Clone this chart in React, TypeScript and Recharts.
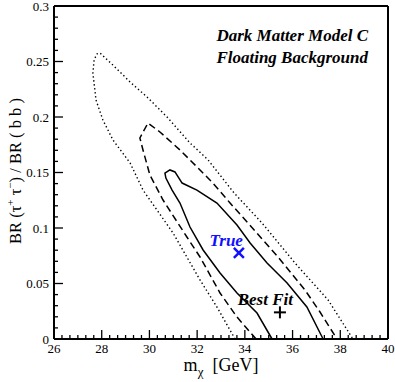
import React from 'react';
import { ComposedChart, Line, Scatter, XAxis, YAxis } from 'recharts';

const SERIF = "'Liberation Serif', 'DejaVu Serif', 'Times New Roman', serif";
const serif = { fontFamily: SERIF };

// contour boundaries: m_chi [GeV] and BR ratio
const outerX = [33.59, 32.83, 32.12, 30.99, 29.73, 29.19, 28.47, 28.05, 27.76, 27.63, 27.68, 27.8, 27.93, 28.47, 29.19, 29.9, 30.74, 31.7, 32.46, 33.55, 34.72, 36.1, 37.49, 38.53];
const outerY = [0, 0.0288, 0.0532, 0.0955, 0.1342, 0.1586, 0.1793, 0.1973, 0.2153, 0.2396, 0.2514, 0.2568, 0.2577, 0.2468, 0.2315, 0.218, 0.2, 0.1766, 0.1613, 0.1315, 0.1045, 0.0685, 0.0351, 0];

const midX = [34.47, 33.67, 32.96, 32.12, 31.57, 30.57, 30.02, 29.73, 29.6, 29.94, 30.44, 31.28, 32.12, 32.66, 33.38, 34.13, 35.39, 36.52, 37.15, 37.86];
const midY = [0, 0.0198, 0.0414, 0.0739, 0.0919, 0.1252, 0.1477, 0.1703, 0.1811, 0.1946, 0.1865, 0.1703, 0.1523, 0.1405, 0.1225, 0.1045, 0.0739, 0.0441, 0.0243, 0];

const innerX = [35.14, 34.51, 33.67, 32.96, 32.25, 31.7, 31.28, 30.95, 30.69, 30.65, 30.86, 31.07, 31.37, 31.99, 32.83, 33.67, 34.22, 34.93, 35.77, 36.6, 37.28];
const innerY = [0, 0.0234, 0.0414, 0.0595, 0.0802, 0.1009, 0.1225, 0.1342, 0.145, 0.1495, 0.1523, 0.1505, 0.1405, 0.1342, 0.1225, 0.1027, 0.0865, 0.0685, 0.0505, 0.0288, 0];

const markerNames = ['True', 'Best Fit'];
const markerX = [33.75, 35.47];
const markerY = [0.0775, 0.024];

const xLabels = [26, 28, 30, 32, 34, 36, 38, 40];
const yLabels = [0, 0.05, 0.1, 0.15, 0.2, 0.25, 0.3];

const toPoints = (xs: number[], ys: number[]) => xs.map((x, i) => ({ x, y: ys[i] }));

const outer = toPoints(outerX, outerY);
const mid = toPoints(midX, midY);
const inner = toPoints(innerX, innerY);
const trueMark = [{ x: markerX[0], y: markerY[0], name: markerNames[0] }];
const bestMark = [{ x: markerX[1], y: markerY[1], name: markerNames[1] }];

// minor ticks: thirds on x, hundredths on y
const xTicks = Array.from({ length: 43 }, (_, i) => 26 + i / 3);
const yTicks = Array.from({ length: 31 }, (_, i) => i / 100);

const near = (a: number, list: number[]) => list.some((b) => Math.abs(a - b) < 1e-6);

const BottomTick = (props: any) => {
  const { x, y, payload } = props;
  const major = near(payload.value, xLabels);
  return (
    <g>
      <line x1={x} x2={x} y1={y} y2={y - (major ? 9 : 4)} stroke="#000" strokeWidth={1.3} />
      {major && (
        <text x={x} y={y + 14} textAnchor="middle" fontSize={13} style={serif} fill="#000">
          {Math.round(payload.value)}
        </text>
      )}
    </g>
  );
};

const TopTick = (props: any) => {
  const { x, y, payload } = props;
  const major = near(payload.value, xLabels);
  return <line x1={x} x2={x} y1={y} y2={y + (major ? 9 : 4)} stroke="#000" strokeWidth={1.3} />;
};

const LeftTick = (props: any) => {
  const { x, y, payload } = props;
  const major = near(payload.value, yLabels);
  return (
    <g>
      <line x1={x} x2={x + (major ? 9 : 4)} y1={y} y2={y} stroke="#000" strokeWidth={1.3} />
      {major && (
        <text x={x - 5} y={y + 4.5} textAnchor="end" fontSize={13} style={serif} fill="#000">
          {String(Math.round(payload.value * 100) / 100)}
        </text>
      )}
    </g>
  );
};

const RightTick = (props: any) => {
  const { x, y, payload } = props;
  const major = near(payload.value, yLabels);
  return <line x1={x} x2={x - (major ? 9 : 4)} y1={y} y2={y} stroke="#000" strokeWidth={1.3} />;
};

const TrueShape = (props: any) => {
  const { cx, cy, payload } = props;
  const s = 5;
  return (
    <g>
      <line x1={cx - s} y1={cy - s} x2={cx + s} y2={cy + s} stroke="#1010ff" strokeWidth={2.5} />
      <line x1={cx - s} y1={cy + s} x2={cx + s} y2={cy - s} stroke="#1010ff" strokeWidth={2.5} />
      <text x={cx + 4} y={cy - 7} textAnchor="end" fontSize={17} fontWeight="bold" fontStyle="italic" style={serif} fill="#1010ff">
        {payload.name}
      </text>
    </g>
  );
};

const BestShape = (props: any) => {
  const { cx, cy, payload } = props;
  const s = 6;
  return (
    <g>
      <line x1={cx - s} y1={cy} x2={cx + s} y2={cy} stroke="#000" strokeWidth={2} />
      <line x1={cx} y1={cy - s} x2={cx} y2={cy + s} stroke="#000" strokeWidth={2} />
      <text x={cx + 13} y={cy - 7} textAnchor="end" fontSize={17} fontWeight="bold" fontStyle="italic" style={serif} fill="#000">
        {payload.name}
      </text>
    </g>
  );
};

const App = () => (
  <div style={{ position: 'absolute', left: 0, top: 0, background: '#fff' }}>
    <ComposedChart width={395} height={382} margin={{ top: 5, right: 6, bottom: 0, left: 0 }}>
      <XAxis
        dataKey="x"
        type="number"
        domain={[26, 40]}
        ticks={xTicks}
        interval={0}
        height={43}
        tickSize={0}
        tickMargin={0}
        tick={<BottomTick />}
        axisLine={{ stroke: '#000', strokeWidth: 2 }}
      />
      <XAxis
        xAxisId="top"
        orientation="top"
        type="number"
        domain={[26, 40]}
        ticks={xTicks}
        interval={0}
        height={1}
        tickSize={0}
        tickMargin={0}
        tick={<TopTick />}
        axisLine={{ stroke: '#000', strokeWidth: 2 }}
      />
      <YAxis
        type="number"
        domain={[0, 0.3]}
        ticks={yTicks}
        interval={0}
        width={54}
        tickSize={0}
        tickMargin={0}
        tick={<LeftTick />}
        axisLine={{ stroke: '#000', strokeWidth: 2 }}
      />
      <YAxis
        yAxisId="right"
        orientation="right"
        type="number"
        domain={[0, 0.3]}
        ticks={yTicks}
        interval={0}
        width={1}
        tickSize={0}
        tickMargin={0}
        tick={<RightTick />}
        axisLine={{ stroke: '#000', strokeWidth: 2 }}
      />
      <Line data={outer} dataKey="y" type="linear" stroke="#000" strokeWidth={1.4} strokeDasharray="1.4 2.6" dot={false} activeDot={false} isAnimationActive={false} />
      <Line data={mid} dataKey="y" type="linear" stroke="#000" strokeWidth={1.5} strokeDasharray="7 4" dot={false} activeDot={false} isAnimationActive={false} />
      <Line data={inner} dataKey="y" type="linear" stroke="#000" strokeWidth={1.5} dot={false} activeDot={false} isAnimationActive={false} />
      <Scatter data={trueMark} dataKey="y" shape={<TrueShape />} isAnimationActive={false} />
      <Scatter data={bestMark} dataKey="y" shape={<BestShape />} isAnimationActive={false} />
      <text x={368} y={41} textAnchor="end" fontSize={17} fontWeight="bold" fontStyle="italic" style={serif} fill="#000">
        Dark Matter Model C
      </text>
      <text x={368} y={63} textAnchor="end" fontSize={17} fontWeight="bold" fontStyle="italic" style={serif} fill="#000">
        Floating Background
      </text>
      <text x={221} y={371} textAnchor="middle" fontSize={18} style={serif} fill="#000">
        m<tspan dy={5} fontSize={13}>χ</tspan>
        <tspan dy={-5}>{'\u00a0\u00a0[GeV]'}</tspan>
      </text>
      <text transform="rotate(-90)" x={-171} y={21} textAnchor="middle" fontSize={16.5} style={serif} fill="#000">
        BR (τ<tspan dy={-7} fontSize={11}>+</tspan>
        <tspan dy={7}>{'\u00a0τ'}</tspan>
        <tspan dy={-7} fontSize={11}>−</tspan>
        <tspan dy={7}>{') / BR ( b b )'}</tspan>
      </text>
    </ComposedChart>
  </div>
);

export default App;
